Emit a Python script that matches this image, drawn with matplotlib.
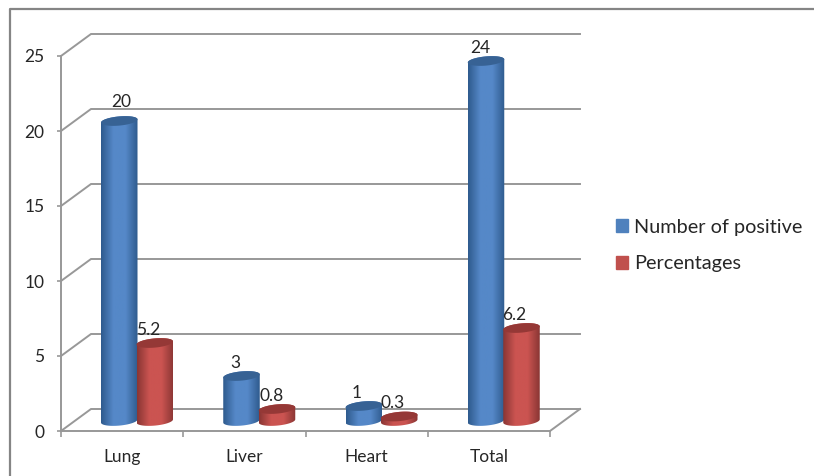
import numpy as np
import matplotlib
matplotlib.use('Agg')
import matplotlib.pyplot as plt
from matplotlib.lines import Line2D
from matplotlib.patches import PathPatch, Patch
from matplotlib.path import Path
from matplotlib.colors import LinearSegmentedColormap

categories = ['Lung', 'Liver', 'Heart', 'Total']
positive = [20, 3, 1, 24]
percentages = [5.2, 0.8, 0.3, 6.2]
y_ticks = [0, 5, 10, 15, 20, 25]

# pixels per axis unit, used to turn the 3D look into data units
PX_X = 122.25
PX_Y = 15.0

DEPTH_X = 30 / PX_X
DEPTH_Y = 22 / PX_Y
BAR_LEFT = 40 / PX_X
BAR_W = 36.5 / PX_X
BAR_STEP = 35.5 / PX_X
BASE_Y = 10 / PX_Y
ELL_H = 4.6 / PX_Y
ELL_TILT = 1.6 / PX_Y

GREY = '#989898'
TEXT = '#262626'

plt.rcParams['font.family'] = ['Lato', 'DejaVu Sans']

fig = plt.figure(figsize=(8.14, 4.76), dpi=100)
ax = fig.add_axes([61 / 814, 1 - 431 / 476, 489 / 814, 375 / 476])


def ellipse_points(xc, yc, half_w, t):
    x = xc + half_w * np.cos(t)
    y = yc + ELL_H * np.sin(t) + ELL_TILT * np.cos(t)
    return x, y


def draw_cylinder(x0, value, edge, mid, top):
    half_w = BAR_W / 2
    xc = x0 + half_w
    y0 = BASE_Y
    y1 = BASE_Y + value

    # body: lower half of the base ellipse, then back over the top one
    t_low = np.linspace(np.pi, 2 * np.pi, 40)
    t_up = np.linspace(0, np.pi, 40)
    xb, yb = ellipse_points(xc, y0, half_w, t_low)
    xt, yt = ellipse_points(xc, y1, half_w, t_up)
    verts = np.column_stack([np.r_[xb, xt, xb[0]], np.r_[yb, yt, yb[0]]])
    body = Path(verts, closed=True)

    cmap = LinearSegmentedColormap.from_list('cyl', [edge, mid, mid, edge])
    im = ax.imshow(np.linspace(0, 1, 64).reshape(1, -1), cmap=cmap, aspect='auto',
                   extent=[x0, x0 + BAR_W, y0 - 1, y1 + 1], zorder=3, clip_on=True)
    im.set_clip_path(PathPatch(body, transform=ax.transData))

    t = np.linspace(0, 2 * np.pi, 80)
    xe, ye = ellipse_points(xc, y1, half_w, t)
    ax.fill(xe, ye, color=top, lw=0, zorder=4, clip_on=False)
    return xc, y1


# back wall and floor
for v in y_ticks:
    ax.plot([0, DEPTH_X, 4 + DEPTH_X], [v, v + DEPTH_Y, v + DEPTH_Y], color=GREY, lw=1.4,
            clip_on=False, zorder=1, solid_joinstyle='miter')
ax.plot([4, 4 + DEPTH_X], [0, DEPTH_Y], color=GREY, lw=1.4, clip_on=False, zorder=1)

# label shifts in points, the 20 sits higher than the others
label_dx = [[1.5, -4.5, -5, -4], [-4.5, -4, -5, -5]]
label_dy = [[14, 9.5, 9.5, 9.5], [9.5, 9.5, 9.5, 9.5]]

series = [
    (positive, '#2f5b8e', '#5588c8', '#376294'),
    (percentages, '#8a3634', '#cb5451', '#953836'),
]
for s, (values, edge, mid, top) in enumerate(series):
    for i, v in enumerate(values):
        x0 = i + BAR_LEFT + s * BAR_STEP
        xc, y1 = draw_cylinder(x0, v, edge, mid, top)
        ax.annotate(str(v), (xc, y1), xytext=(label_dx[s][i], label_dy[s][i]),
                    textcoords='offset points', ha='center', va='center',
                    fontsize=12.5, color=TEXT, zorder=6)

ax.set_xlim(0, 4)
ax.set_ylim(0, 25)
ax.patch.set_visible(False)
for side in ['top', 'right']:
    ax.spines[side].set_visible(False)
for side in ['left', 'bottom']:
    ax.spines[side].set_color(GREY)
    ax.spines[side].set_linewidth(1.4)

ax.set_yticks(y_ticks)
ax.tick_params(axis='y', length=3, width=1.2, color=GREY, labelsize=12.5, labelcolor=TEXT, pad=9)
ax.set_xticks(range(5))
ax.set_xticklabels([])
ax.set_xticks([i + 0.5 for i in range(4)], categories, minor=True)
ax.tick_params(axis='x', which='major', length=4, width=1.2, color=GREY)
ax.tick_params(axis='x', which='minor', length=0, labelsize=12.5, labelcolor=TEXT, pad=13)

# outer chart frame, runs off the right and bottom edges
fig.add_artist(Line2D([10 / 814, 10 / 814, 1], [0, 1 - 9 / 476, 1 - 9 / 476], color='#858585', lw=1.6))

handles = [Patch(color='#4f81bd', label='Number of positive'),
           Patch(color='#c0504d', label='Percentages')]
fig.legend(handles=handles, loc='center left', bbox_to_anchor=(616 / 814, 1 - 245.5 / 476),
           frameon=False, fontsize=14.3, labelcolor=TEXT, handlelength=0.62, handleheight=0.62,
           handletextpad=0.31, labelspacing=1.0, borderpad=0, borderaxespad=0)

fig.savefig('out.png', dpi=100, facecolor='white')
